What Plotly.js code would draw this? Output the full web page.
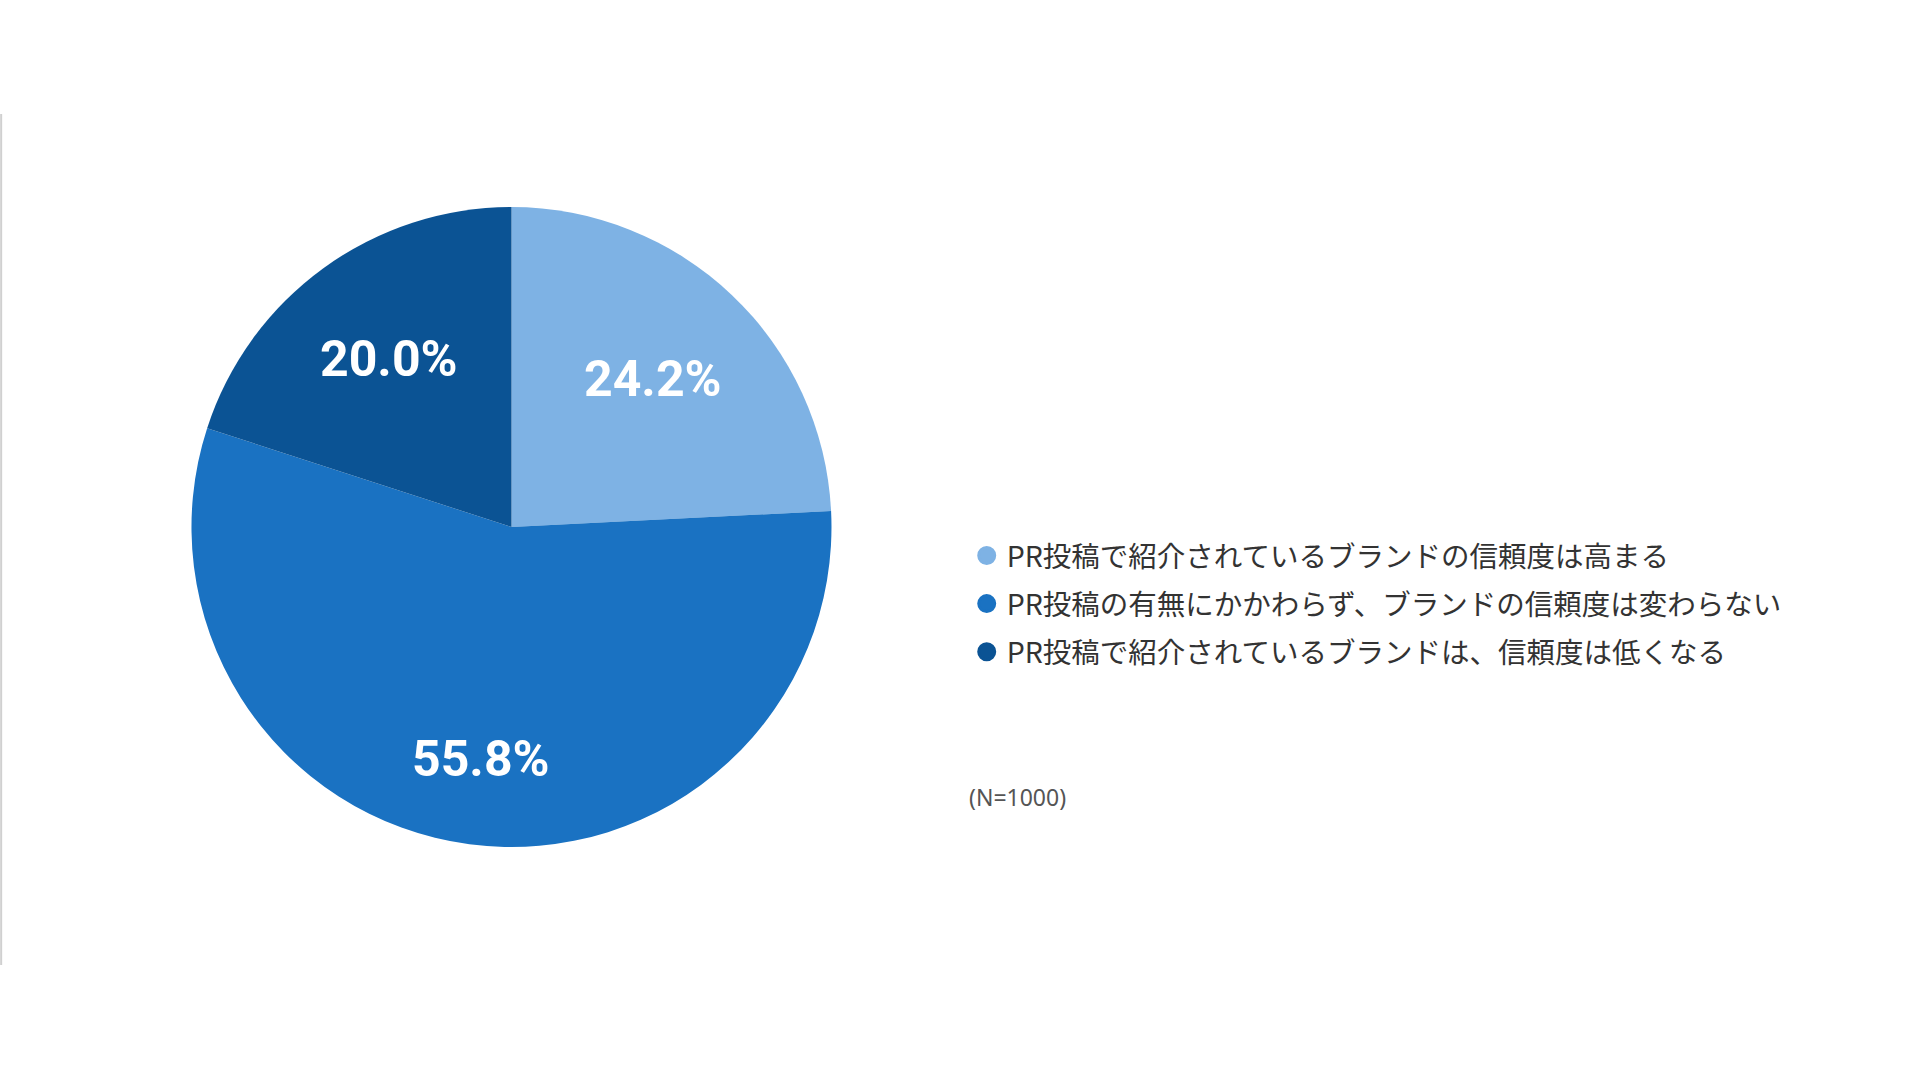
<!DOCTYPE html>
<html>
<head>
<meta charset="utf-8">
<script src="https://cdn.plot.ly/plotly-3.0.1.min.js"></script>
<style>html,body{margin:0;padding:0;background:#fff;}#chart{width:1920px;height:1080px;}</style>
</head>
<body>
<div id="chart"></div>
<script>
const categories = [
  "PR投稿で紹介されているブランドの信頼度は高まる",
  "PR投稿の有無にかかわらず、ブランドの信頼度は変わらない",
  "PR投稿で紹介されているブランドは、信頼度は低くなる"
];
const values = [24.2, 55.8, 20.0];
const colors = ["#7eb2e4", "#1a72c2", "#0b5394"];
const note = "(N=1000)";

// pie geometry (paper domain) and label radial placement
const W = 1920, H = 1080;
const dom = {x: [0.0995, 0.4333], y: [0.2157, 0.8083]};
const labelRadius = [0.64, 0.73, 0.65];

const traces = [{
  type: "pie",
  labels: categories,
  values: values,
  sort: false,
  direction: "clockwise",
  rotation: 0,
  marker: {colors: colors, line: {width: 0}},
  textinfo: "none",
  hoverinfo: "label+percent",
  showlegend: false,
  domain: dom
}];
categories.forEach((c, i) => {
  traces.push({
    type: "scatter", mode: "markers", x: [null], y: [null], name: c,
    legendgroup: "g" + i,
    marker: {symbol: "circle", size: 16, color: colors[i], line: {width: 3, color: colors[i]}},
    hoverinfo: "skip", showlegend: true
  });
});

// slice labels positioned from the data (mid-angle of each slice)
const total = values.reduce((a, b) => a + b, 0);
const cxp = (dom.x[0] + dom.x[1]) / 2 * W;
const cyp = (1 - (dom.y[0] + dom.y[1]) / 2) * H;
const R = Math.min((dom.x[1] - dom.x[0]) * W, (dom.y[1] - dom.y[0]) * H) / 2;
let cum = 0;
const labelAnns = values.map((v, i) => {
  const mid = (cum + v / 2) / total * 2 * Math.PI;
  cum += v;
  const px = cxp + labelRadius[i] * R * Math.sin(mid);
  const py = cyp - labelRadius[i] * R * Math.cos(mid);
  return {
    text: v.toFixed(1) + "%", xref: "paper", yref: "paper",
    x: px / W, y: 1 - py / H, xanchor: "center", yanchor: "middle", showarrow: false,
    font: {family: "Roboto, 'Liberation Sans', sans-serif", size: 50, color: "#ffffff", weight: "bold"}
  };
});

const layout = {
  width: W, height: H,
  margin: {l: 0, r: 0, t: 0, b: 0},
  paper_bgcolor: "#ffffff", plot_bgcolor: "#ffffff",
  xaxis: {visible: false}, yaxis: {visible: false},
  showlegend: true,
  legend: {
    x: 0.5035, y: 0.4407, xanchor: "left", yanchor: "middle",
    font: {family: "'Noto Sans CJK JP', 'Noto Sans', sans-serif", size: 28.5, color: "#333333"},
    itemsizing: "trace", traceorder: "grouped", tracegroupgap: 8,
    bgcolor: "rgba(0,0,0,0)", itemwidth: 30
  },
  annotations: labelAnns.concat([{
    text: note, xref: "paper", yref: "paper", x: 967/W, y: 1 - 797/H,
    xanchor: "left", yanchor: "middle", showarrow: false,
    font: {family: "'Noto Sans', 'Noto Sans CJK JP', sans-serif", size: 23, color: "#555555"}
  }]),
  shapes: [{
    type: "line", xref: "paper", yref: "paper", x0: 0.0006, x1: 0.0006,
    y0: 1 - 965/H, y1: 1 - 114/H, line: {color: "#d0d0d0", width: 2}
  }]
};

Plotly.newPlot("chart", traces, layout, {displayModeBar: false, staticPlot: true});
</script>
</body>
</html>
